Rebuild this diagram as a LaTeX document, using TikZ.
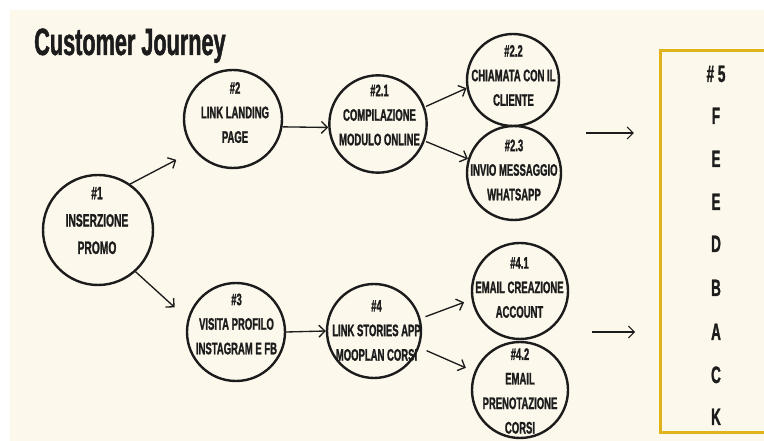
\documentclass[tikz,border=0pt]{standalone}
\usepackage{fontspec}
\setmainfont{Liberation Sans}
\newfontfamily\journeyfont[FakeStretch=0.57,BoldFeatures={FakeBold=1.2}]{Liberation Sans}
\usetikzlibrary{arrows.meta}
\definecolor{cream}{HTML}{FDF8EC}
\definecolor{gold}{HTML}{E0B21B}
\definecolor{ink}{HTML}{1C1C1C}

\begin{document}
\begin{tikzpicture}[x=0.75pt,y=-0.75pt,
    bubble/.style={circle,draw=ink,line width=1.8pt,inner sep=0pt},
    bubbletext/.style={align=center,text=ink,inner sep=0pt,
      font=\journeyfont\bfseries\fontsize{12.5}{18.4}\selectfont},
    arr/.style={draw=ink,line width=1pt,-{Straight Barb[length=4.5pt,width=9pt]}},
    letter/.style={anchor=base,text=ink,inner sep=0pt,
      font=\journeyfont\bfseries\fontsize{17.8}{20}\selectfont}]
        % Background
        \clip (0,0) rectangle (764,441);
        \fill[white] (0,0) rectangle (764,441);
        \fill[cream] (10,10) rectangle (764,441);
        % Title
        \node[anchor=base west,inner sep=0pt,text=ink,
          font=\journeyfont\bfseries\fontsize{28.5}{30}\selectfont] (title) at (34,55) {Customer Journey};
        % Circles
        \node[bubble,minimum size=82.5pt] (n1) at (98,230) {};
        \node[bubble,minimum size=73.5pt] (n2) at (233,119) {};
        \node[bubble,minimum size=73.5pt] (n3) at (236,332) {};
        \node[bubble,minimum size=73pt] (n21) at (378,124) {};
        \node[bubble,minimum size=69pt] (n22) at (513,80) {};
        \node[bubble,minimum size=70.5pt] (n23) at (514,173) {};
        \node[bubble,minimum size=70.5pt] (n4) at (374,331) {};
        \node[bubble,minimum size=72pt] (n41) at (520,291) {};
        \node[bubble,minimum size=72pt] (n42) at (520,390) {};
        % Labels inside circles
        \node[bubbletext,font=\journeyfont\bfseries\fontsize{13.5}{20.5}\selectfont] (t1) at (97,220.5) {\#1\\INSERZIONE\\PROMO};
        \node[bubbletext] (t2) at (235,112.5) {\#2\\LINK LANDING\\PAGE};
        \node[bubbletext] (t3) at (236.5,324) {\#3\\VISITA PROFILO\\INSTAGRAM E FB};
        \node[bubbletext] (t21) at (379.5,115) {\#2.1\\COMPILAZIONE\\MODULO ONLINE};
        \node[bubbletext] (t22) at (513.5,75.5) {\#2.2\\CHIAMATA CON IL\\CLIENTE};
        \node[bubbletext] (t23) at (514,170) {\#2.3\\INVIO MESSAGGIO\\WHATSAPP};
        \node[bubbletext] (t4) at (376.5,330.5) {\#4\\LINK STORIES APP\\MOOPLAN CORSI};
        \node[bubbletext] (t41) at (519.5,287.5) {\#4.1\\EMAIL CREAZIONE\\ACCOUNT};
        \node[bubbletext] (t42) at (520,391) {\#4.2\\EMAIL\\PRENOTAZIONE\\CORSI};
        % Arrows between circles
        \draw[arr,shorten >=15pt] (n1.55) -- (n2.219);
        \draw[arr,shorten >=13pt] (n1.-48) -- (n3.165);
        \draw[arr] (n2.-9) -- (n21.184);
        \draw[arr] (n3.east) -- (n4.west);
        \draw[arr,shorten <=1pt] (n21.20) -- (n22.190);
        \draw[arr,shorten <=1pt] (n21.-20) -- (n23.163);
        \draw[arr,shorten <=4pt,shorten >=6pt] (n4.15) -- (n41.190);
        \draw[arr,shorten <=6pt,shorten >=7pt] (n4.-20) -- (n42.158);
        % Feedback box
        \node[draw=gold,line width=2.2pt,minimum width=104pt,minimum height=287pt,inner sep=0pt] (fb) at (730,241.5) {};
        \coordinate (s1) at (586,133);
        \coordinate (s2) at (592,332);
        \draw[arr,line width=0.8pt,shorten >=19pt] (s1) -- (s1 -| fb.west);
        \draw[arr,line width=0.8pt,shorten >=18pt] (s2) -- (s2 -| fb.west);
        % Letters
        \node[letter] (h5) at (716,82) {\# 5};
        \node[letter] (lf) at (716,124) {F};
        \node[letter] (le1) at (716,167) {E};
        \node[letter] (le2) at (716,210) {E};
        \node[letter] (ld) at (716,252) {D};
        \node[letter] (lb) at (716,296) {B};
        \node[letter] (la) at (716,340) {A};
        \node[letter] (lc) at (716,383) {C};
        \node[letter] (lk) at (716,425) {K};
    \end{tikzpicture}
\end{document}
